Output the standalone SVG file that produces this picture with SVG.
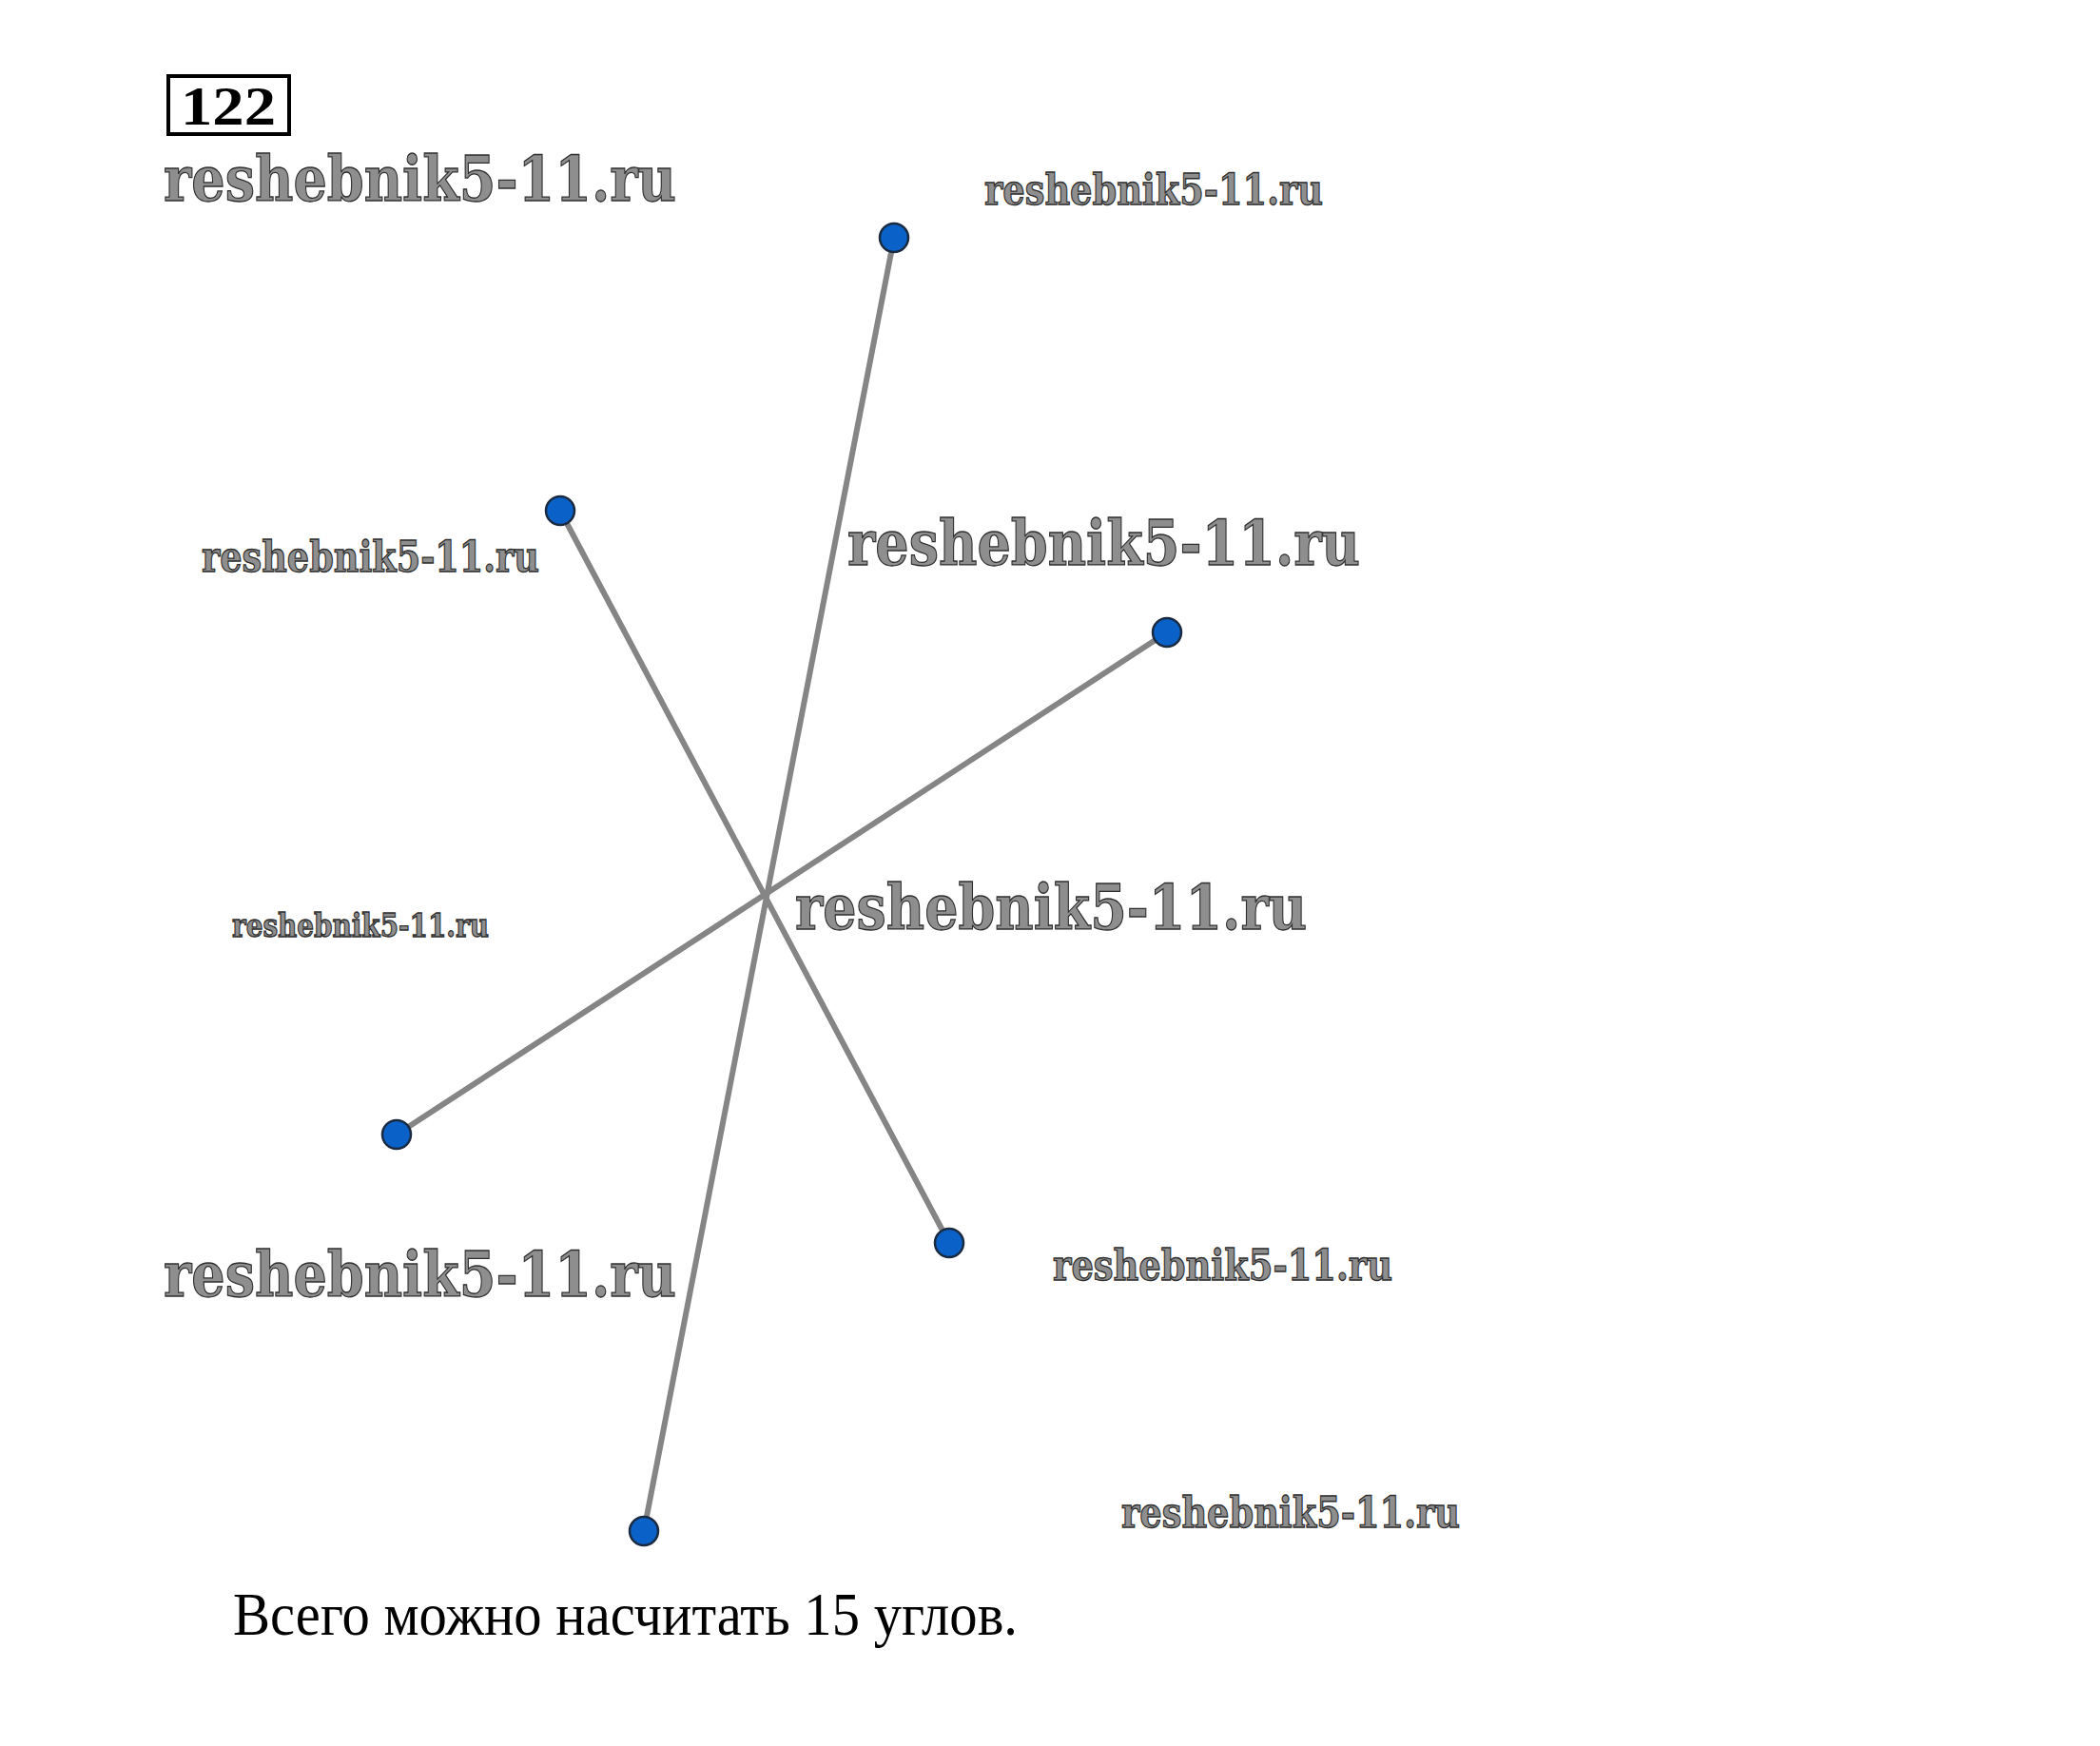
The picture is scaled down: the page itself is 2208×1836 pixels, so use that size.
<svg xmlns="http://www.w3.org/2000/svg" width="2208" height="1836" viewBox="0 0 2208 1836">
<style>
.wm{font-family:"DejaVu Serif","Liberation Serif",serif;font-weight:bold;fill:#8e8e8e;stroke:#2e2e2e;stroke-width:1.3;}
.ln{stroke:#858585;stroke-width:6;stroke-linecap:round;fill:none;}
.pt{fill:#0a62c8;stroke:#1a2a40;stroke-width:2.5;}
</style>
<rect width="2208" height="1836" fill="#ffffff"/>
<g id="number">
<rect x="177" y="80" width="127" height="61" fill="none" stroke="#000" stroke-width="4"/>
<text x="240" y="131" text-anchor="middle" font-family="Liberation Serif,serif" font-weight="bold" font-size="58" fill="#000" textLength="100" lengthAdjust="spacingAndGlyphs">122</text>
</g>
<g id="watermarks">
<text class="wm" x="172" y="211" font-size="66" textLength="539" lengthAdjust="spacingAndGlyphs">reshebnik5-11.ru</text>
<text class="wm" x="1035" y="215" font-size="44" textLength="356" lengthAdjust="spacingAndGlyphs">reshebnik5-11.ru</text>
<text class="wm" x="212" y="601" font-size="44" textLength="355" lengthAdjust="spacingAndGlyphs">reshebnik5-11.ru</text>
<text class="wm" x="891" y="594" font-size="66" textLength="539" lengthAdjust="spacingAndGlyphs">reshebnik5-11.ru</text>
<text class="wm" x="244" y="985" font-size="34" textLength="270" lengthAdjust="spacingAndGlyphs">reshebnik5-11.ru</text>
<text class="wm" x="836" y="977" font-size="66" textLength="538" lengthAdjust="spacingAndGlyphs">reshebnik5-11.ru</text>
<text class="wm" x="172" y="1363" font-size="66" textLength="539" lengthAdjust="spacingAndGlyphs">reshebnik5-11.ru</text>
<text class="wm" x="1107" y="1346" font-size="44" textLength="357" lengthAdjust="spacingAndGlyphs">reshebnik5-11.ru</text>
<text class="wm" x="1179" y="1606" font-size="44" textLength="356" lengthAdjust="spacingAndGlyphs">reshebnik5-11.ru</text>
</g>
<g id="connectors">
<line class="ln" x1="940" y1="250" x2="677" y2="1610"/>
<line class="ln" x1="589" y1="537" x2="998" y2="1307"/>
<line class="ln" x1="1227" y1="665" x2="417" y2="1193"/>
</g>
<g id="point-top"><circle class="pt" cx="940" cy="250" r="15"/></g>
<g id="point-upper-left"><circle class="pt" cx="589" cy="537" r="15"/></g>
<g id="point-right"><circle class="pt" cx="1227" cy="665" r="15"/></g>
<g id="point-lower-left"><circle class="pt" cx="417" cy="1193" r="15"/></g>
<g id="point-lower-right"><circle class="pt" cx="998" cy="1307" r="15"/></g>
<g id="point-bottom"><circle class="pt" cx="677" cy="1610" r="15"/></g>
<g id="caption">
<text x="245" y="1719" font-family="Liberation Serif,serif" font-size="64" fill="#000" textLength="825" lengthAdjust="spacingAndGlyphs">Всего можно насчитать 15 углов.</text>
</g>
</svg>
